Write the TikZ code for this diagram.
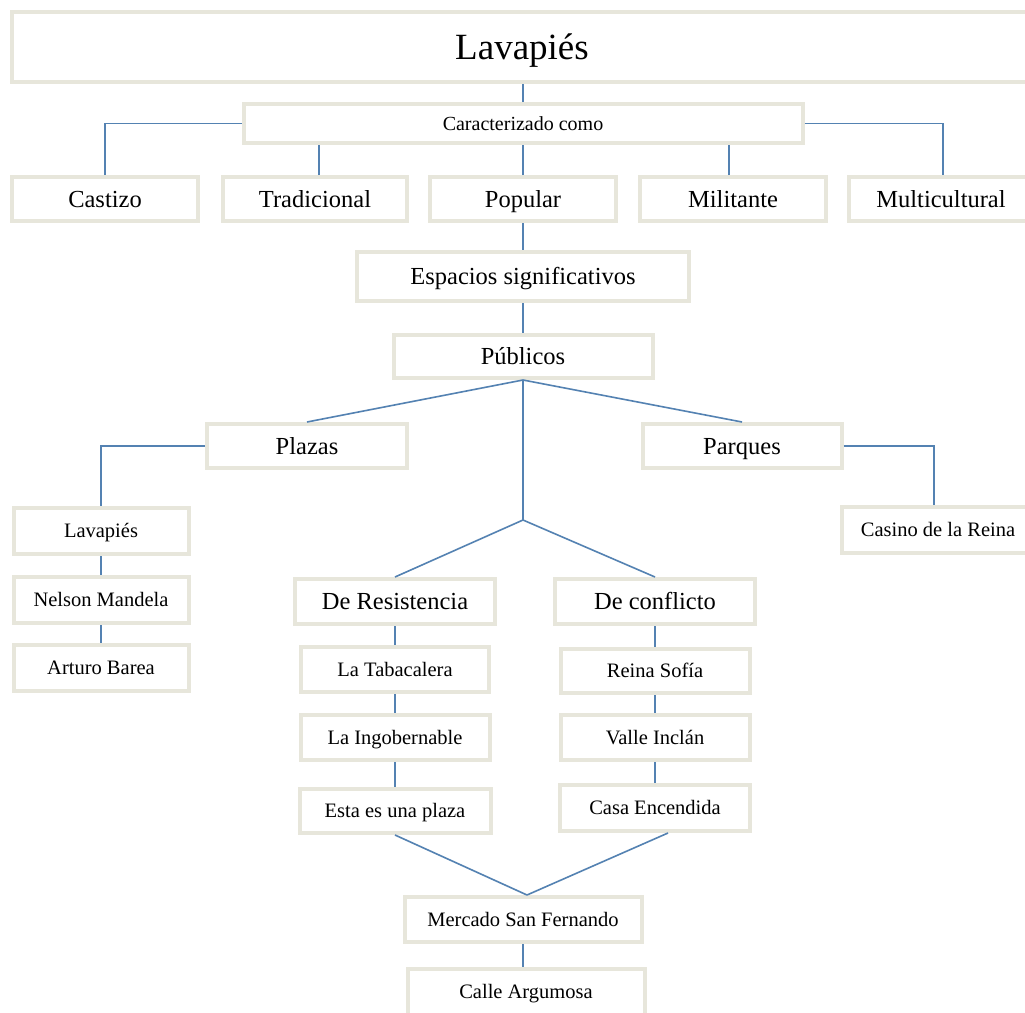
\documentclass[tikz,border=0pt]{standalone}
\usepackage{fontspec}
\setmainfont{Liberation Serif}
\definecolor{boxgray}{RGB}{231,230,219}
\definecolor{linkblue}{RGB}{84,130,178}
\begin{document}
\begin{tikzpicture}[x=1pt,y=-1pt,
    box/.style={draw=boxgray,line width=4pt,fill=white,inner sep=0pt},
    link/.style={draw=linkblue,line width=1.6pt},
    big/.style={font=\fontsize{37}{40}\selectfont,text height=33pt,text depth=9pt},
    hdr/.style={font=\fontsize{20}{24}\selectfont,text height=18pt,text depth=5pt},
    mid/.style={font=\fontsize{24.5}{28}\selectfont,text height=22pt,text depth=6pt},
    sml/.style={font=\fontsize{20.5}{24}\selectfont,text height=18.5pt,text depth=5pt}]
    \clip (0,0) rectangle (1025,1012);
    \fill[white] (0,0) rectangle (1025,1012);
    \def\c{523}
    \node[box,big,minimum width=1021pt,minimum height=70pt] (A0_0) at (522,47) {Lavapiés};
    \node[box,hdr,minimum width=559pt,minimum height=39pt] (A1_0) at (\c,123.5) {Caracterizado como};
    \node[box,mid,minimum width=186pt,minimum height=44pt] (A2_0) at (105,199) {Castizo};
    \node[box,mid,minimum width=184pt,minimum height=44pt] (A2_1) at (315,199) {Tradicional};
    \node[box,mid,minimum width=186pt,minimum height=44pt] (A2_2) at (\c,199) {Popular};
    \node[box,mid,minimum width=186pt,minimum height=44pt] (A2_3) at (733,199) {Militante};
    \node[box,mid,minimum width=184pt,minimum height=44pt] (A2_4) at (941,199) {Multicultural};
    \node[box,mid,minimum width=332pt,minimum height=49pt] (A3_0) at (\c,276.5) {Espacios significativos};
    \node[box,mid,minimum width=259pt,minimum height=43pt] (A4_0) at (\c,356.5) {Públicos};
    \node[box,mid,minimum width=200pt,minimum height=44pt] (A5_0) at (307,446) {Plazas};
    \node[box,mid,minimum width=199pt,minimum height=44pt] (A5_1) at (742,446) {Parques};
    \coordinate (J1) at (\c,520);
    % plazas
    \node[box,sml,minimum width=175pt,minimum height=46pt] (A6_0) at (101,531) {Lavapiés};
    \node[box,sml,minimum width=175pt,minimum height=46pt] (A7_0) at (101,600) {Nelson Mandela};
    \node[box,sml,minimum width=175pt,minimum height=46pt] (A8_0) at (101,668) {Arturo Barea};
    % parques
    \node[box,sml,minimum width=192pt,minimum height=46pt] (A6_3) at (938,530) {Casino de la Reina};
    % resistencia / conflicto
    \node[box,mid,minimum width=200pt,minimum height=45pt] (A6_1) at (395,601.5) {De Resistencia};
    \node[box,mid,minimum width=200pt,minimum height=45pt] (A6_2) at (655,601.5) {De conflicto};
    \node[box,sml,minimum width=188pt,minimum height=45pt] (A7_1) at (395,669.5) {La Tabacalera};
    \node[box,sml,minimum width=189pt,minimum height=45pt] (A8_1) at (395,737.5) {La Ingobernable};
    \node[box,sml,minimum width=191pt,minimum height=44pt] (A9_1) at (395,811) {Esta es una plaza};
    \node[box,sml,minimum width=189pt,minimum height=44pt] (A7_2) at (655,671) {Reina Sofía};
    \node[box,sml,minimum width=189pt,minimum height=45pt] (A8_2) at (655,737.5) {Valle Inclán};
    \node[box,sml,minimum width=190pt,minimum height=46pt] (A9_2) at (655,808) {Casa Encendida};
    \node[box,sml,minimum width=237pt,minimum height=45pt] (A10_1) at (\c,919.5) {Mercado San Fernando};
    \node[box,sml,minimum width=237pt,minimum height=46pt] (A11_1) at (526,992) {Calle Argumosa};
    % connectors
    \path[link] (A1_0.north) -- (A1_0.north |- A0_0.south);
    \path[link] (A1_0.west) -| (A2_0.north);
    \path[link] ([xshift=4pt]A2_1.north) -- ([xshift=4pt]A2_1.north |- A1_0.south);
    \path[link] (A2_2.north) -- (A2_2.north |- A1_0.south);
    \path[link] ([xshift=-4pt]A2_3.north) -- ([xshift=-4pt]A2_3.north |- A1_0.south);
    \path[link] (A1_0.east) -| ([xshift=2pt]A2_4.north);
    \path[link] (A2_2) edge (A3_0) (A3_0) edge (A4_0);
    \path[link] (A4_0.south) edge (A5_0.north) edge (A5_1.north) edge (J1);
    \path[link] (J1) edge (A6_1.north) edge (A6_2.north);
    \path[link] (A5_0.west) -| (A6_0.north);
    \path[link] (A6_0) edge (A7_0) (A7_0) edge (A8_0);
    \path[link] (A5_1.east) -| ([xshift=-4pt]A6_3.north);
    \path[link] (A6_1) edge (A7_1) (A7_1) edge (A8_1) (A8_1) edge (A9_1);
    \path[link] (A6_2) edge (A7_2) (A7_2) edge (A8_2) (A8_2) edge (A9_2);
    \path[link] (A9_1.south) edge ([xshift=4pt]A10_1.north);
    \path[link] ([xshift=13pt]A9_2.south) edge ([xshift=4pt]A10_1.north);
    \path[link] (A10_1) edge (A10_1 |- A11_1.north);
\end{tikzpicture}
\end{document}
